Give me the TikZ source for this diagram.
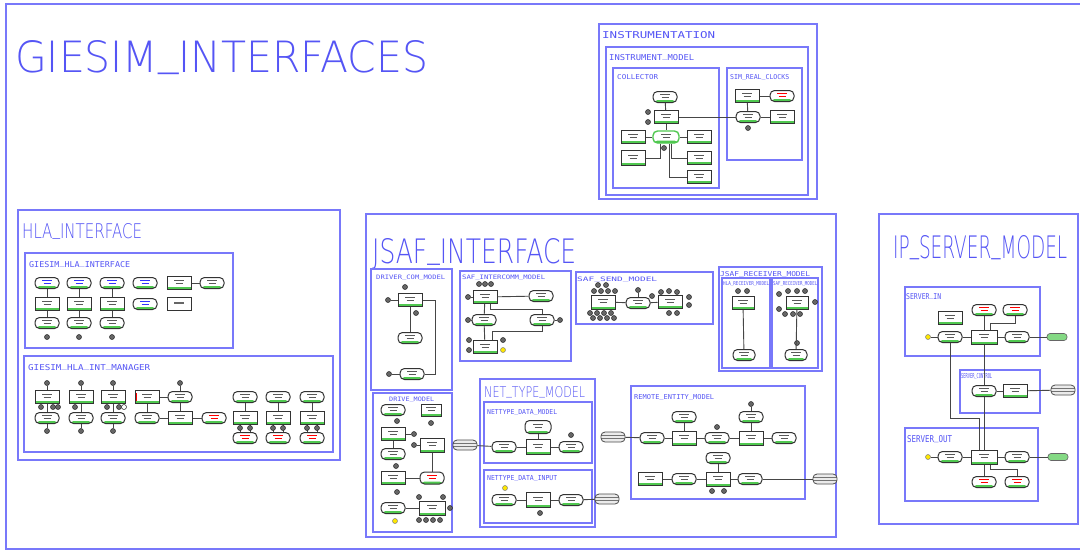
\documentclass[tikz,border=0pt]{standalone}
\usepackage{fontspec}
\usepackage{graphicx}
\usetikzlibrary{shapes.geometric}
\IfFontExistsTF{DejaVu Sans ExtraLight}{\newfontfamily\cadthin{DejaVu Sans ExtraLight}}{\newfontfamily\cadthin{DejaVu Sans Mono}}
\newfontfamily\cadmono{DejaVu Sans Mono}
\definecolor{frm}{RGB}{120,120,250}
\definecolor{ttl}{RGB}{85,85,245}
\definecolor{grn}{RGB}{80,200,80}
\definecolor{wire}{RGB}{70,70,70}
\newcommand\us{\raisebox{0.17em}{\_}}
\newcommand\biglab[6]{\node[anchor=north west,inner sep=0pt,text=ttl] (#1) at (#2,#3) {\resizebox{#4pt}{#5pt}{\cadthin #6}};}
\newcommand\smlab[6]{\node[anchor=north west,inner sep=0pt,text=ttl] (#1) at (#2,#3) {\resizebox{#4pt}{#5pt}{\cadmono #6}};}
\tikzset{
 outerfrm/.style={draw=frm, line width=2pt},
 frame/.style={draw=frm, line width=1.6pt},
 sub/.style={draw=frm, line width=1.4pt},
 wr/.style={draw=wire, line width=0.9pt},
 nbase/.style={draw=black!80, line width=1pt, fill=white, inner sep=0pt, minimum width=24pt, minimum height=11pt},
 gl/.style={path picture={
   \fill[grn] (path picture bounding box.south west) rectangle ([yshift=2.4pt]path picture bounding box.south east);
   \draw[#1, line width=1.2pt] ([xshift=-5pt,yshift=2.2pt]path picture bounding box.center) -- ([xshift=5pt,yshift=2.2pt]path picture bounding box.center)
     ([xshift=-3.5pt,yshift=-0.6pt]path picture bounding box.center) -- ([xshift=3.5pt,yshift=-0.6pt]path picture bounding box.center);}},
 mko/.style={path picture={
   \draw[black!60, line width=1.1pt] ([xshift=-5pt,yshift=1pt]path picture bounding box.center) -- ([xshift=5pt,yshift=1pt]path picture bounding box.center);}},
 pl/.style={nbase, rounded corners=4.5pt, gl=#1}, pl/.default=black!65,
 bx/.style={nbase, minimum height=13pt, gl=#1}, bx/.default=black!65,
 port/.style={circle, draw=black!85, fill=black!60, line width=0.5pt, minimum size=5pt, inner sep=0pt},
 yport/.style={port, fill=yellow!90!orange, draw=black!50},
 db/.style={draw=black!70, fill=black!8, rounded corners=4pt, minimum width=24pt, minimum height=10pt, inner sep=0pt, line width=0.8pt,
   path picture={\draw[black!55, line width=0.5pt] ([yshift=1.8pt]path picture bounding box.west) -- ([yshift=1.8pt]path picture bounding box.east)
     ([yshift=-1.2pt]path picture bounding box.west) -- ([yshift=-1.2pt]path picture bounding box.east);}},
 gblob/.style={draw=black!60, fill=grn!70, rounded corners=3pt, minimum width=20pt, minimum height=7pt, inner sep=0pt, line width=0.6pt},
}
\begin{document}
\begin{tikzpicture}[x=1pt,y=-1pt]
\useasboundingbox (0,0) rectangle (1080,550);
\fill[white] (0,0) rectangle (1080,550);
\draw[outerfrm] (6,4) rectangle (1095,549);
\biglab{tGI}{15}{40}{413}{32}{GIESIM\us INTERFACES}

% ---------------- INSTRUMENTATION
\draw[sub] (599,24) rectangle (817,199);
\draw[sub] (606,47) rectangle (808,195);
\draw[sub] (613,68) rectangle (719,188);
\draw[sub] (727,68) rectangle (802,160);
\smlab{tInstr}{602}{31}{113}{7}{INSTRUMENTATION}
\smlab{tInstrM}{609}{54}{85}{6}{INSTRUMENT\us MODEL}
\smlab{tColl}{617}{74}{41}{5}{COLLECTOR}
\smlab{tSim}{730}{74}{59}{5}{SIM\us REAL\us CLOCKS}
\node[pl] (c1) at (665,97) {};
\node[bx] (c2) at (666,117) {};
\node[port] (cp1) at (648,112) {};
\node[port] (cp2) at (648,122) {};
\node[pl, draw=grn, line width=1.4pt, minimum width=26pt, minimum height=12pt] (c3) at (666,137) {};
\node[bx] (c4) at (633,137) {};
\node[bx] (c5) at (699,137) {};
\node[bx, minimum height=15pt] (c6) at (633,158) {};
\node[bx] (c7) at (699,158) {};
\node[bx] (c8) at (699,177) {};
\node[port] (cp3) at (664,148) {};
\node[bx] (s1) at (747,96) {};
\node[pl=red] (s3) at (782,96) {};
\node[pl] (s2) at (748,117) {};
\node[bx] (s4) at (782,117) {};
\node[port] (sp) at (748,128) {};
\draw[wr] (c1) -- (c2);
\draw[wr] (c2) -- (c3);
\draw[wr] (c3) -- (c4);
\draw[wr] (c3) -- (c5);
\draw[wr] ([xshift=-6pt]c3.south) |- (c6.east);
\draw[wr] ([xshift=5pt]c3.south) |- (c7.west);
\draw[wr] ([xshift=3pt]c3.south) |- (c8.west);
\draw[wr] (c2) -- (s2);
\draw[wr] (s1) -- (s3);
\draw[wr] (s1) -- (s2);
\draw[wr] (s2) -- (s4);

% ---------------- HLA_INTERFACE
\draw[frame] (18,210) rectangle (340,460);
\biglab{tHLA}{22}{223}{120}{15}{HLA\us INTERFACE}
\draw[sub] (25,253) rectangle (233,348);
\smlab{tGHI}{29}{261}{101}{6}{GIESIM\us HLA\us INTERFACE}
\foreach \i/\x in {1/47,2/79,3/112} {
  \node[pl=blue!80] (ha\i) at (\x,283) {};
  \node[bx] (hb\i) at (\x,304) {};
  \node[pl] (hc\i) at (\x,323) {};
  \node[port] (hd\i) at (\x,337) {};
  \draw[wr] (ha\i) -- (hb\i);
  \draw[wr] (hb\i) -- (hc\i);
}
\node[pl=blue!80] (ha4) at (145,283) {};
\node[pl=blue!80] (hb4) at (145,304) {};
\node[bx] (h5) at (179,283) {};
\node[pl] (h6) at (212,283) {};
\node[nbase, minimum height=13pt, mko] (h7) at (179,304) {};
\draw[wr] (h5) -- (h6);

\draw[sub] (24,356) rectangle (333,452);
\smlab{tGHM}{28}{364}{122}{6}{GIESIM\us HLA\us INT\us MANAGER}
\foreach \i/\x in {1/47,2/81,3/113} {
  \node[port] (ma\i) at (\x,383) {};
  \node[bx] (mb\i) at (\x,397) {};
  \node[pl] (mc\i) at (\x,418) {};
  \node[port] (md\i) at (\x,431) {};
  \draw[wr] (ma\i) -- (mb\i);
  \draw[wr] (mb\i) -- (mc\i);
  \draw[wr] (mc\i) -- (md\i);
}
\foreach \k/\x in {1/41,2/53,3/58,4/75,5/107,6/119} {\node[port] (mq\k) at (\x,407) {};}
\node[port, fill=white] (mq7) at (124,407) {};
\node[bx] (m1) at (147,397) {};
\node[port] (m0) at (180,383) {};
\node[pl] (m2) at (180,397) {};
\node[pl] (m3) at (147,418) {};
\node[bx] (m4) at (180,418) {};
\node[pl=red] (m5) at (214,418) {};
\draw[red, line width=1pt] ([xshift=1.5pt,yshift=4pt]m1.west) -- ([xshift=1.5pt,yshift=-4pt]m1.west);
\draw[wr] (m1) -- (m2);
\draw[wr] (m0) -- (m2);
\draw[wr] (m2) -- (m4);
\draw[wr] (m1) -- (m3);
\draw[wr] (m3) -- (m4);
\draw[wr] (m4) -- (m5);
\foreach \i/\x in {1/245,2/278,3/312} {
  \node[pl] (ra\i) at (\x,397) {};
  \node[bx] (rb\i) at (\x,418) {};
  \node[pl=red] (rc\i) at (\x,438) {};
  \draw[wr] (ra\i) -- (rb\i);
  \draw[wr] ([xshift=-5pt]rb\i.south) -- ([xshift=-5pt]rc\i.north);
  \draw[wr] ([xshift=5pt]rb\i.south) -- ([xshift=5pt]rc\i.north);
  \node[port] (rpa\i) at (\x-5,428) {};
  \node[port] (rpb\i) at (\x+5,428) {};
}

% ---------------- JSAF_INTERFACE
\draw[frame] (366,214) rectangle (836,537);
\biglab{tJSAF}{372}{238}{204}{25}{JSAF\us INTERFACE}
% DRIVER_COM_MODEL
\draw[sub] (371,269) rectangle (452,390);
\smlab{tDC}{376}{275}{69}{4.5}{DRIVER\us COM\us MODEL}
\node[port] (dp1) at (405,287) {};
\node[bx] (d1) at (410,300) {};
\node[port] (dp2) at (388,300) {};
\node[port] (dp3) at (416,313) {};
\node[pl] (d2) at (410,338) {};
\node[pl] (d3) at (412,374) {};
\node[port] (dp4) at (389,374) {};
\coordinate (dc) at (435,300);
\draw[wr] (d1) -- (d2);
\draw[wr] (d1.east) -- (dc) |- (d3.east);
\draw[wr] (dp2) -- (d1);
\draw[wr] (dp4) -- (d3);
% SAF_INTERCOMM_MODEL
\draw[sub] (460,271) rectangle (571,361);
\smlab{tSI}{462}{275}{83}{4.5}{SAF\us INTERCOMM\us MODEL}
\foreach \k/\x in {1/479,2/485,3/491} {\node[port] (ip\k) at (\x,284) {};}
\node[bx] (i1) at (485,297) {};
\node[port] (ip4) at (468,297) {};
\node[pl] (i2) at (541,296) {};
\node[pl] (i3) at (484,320) {};
\node[port] (ip5) at (468,320) {};
\node[pl] (i4) at (542,320) {};
\node[port] (ip6) at (560,320) {};
\node[bx] (i5) at (485,347) {};
\node[port] (ip7) at (469,340) {};
\node[port] (ip8) at (469,350) {};
\node[port] (ip9) at (503,340) {};
\node[yport] (ip10) at (503,350) {};
\coordinate (ic1) at (542,309);
\coordinate (ic2) at (492,331);
\draw[wr] (i1) -- (i2);
\draw[wr] (i1) -- (i3);
\draw[wr] (i3) -- (i5);
\draw[wr] ([xshift=5pt]i1.south) |- (ic1) -- (i4.north);
\draw[wr] (i4.south) |- (ic2) -- (ic2 |- i5.north);
\draw[wr] (ip4) -- (i1);
\draw[wr] (ip5) -- (i3);
\draw[wr] (i4) -- (ip6);
% SAF_SEND_MODEL
\draw[sub] (576,272) rectangle (713,324);
\smlab{tSS}{577}{277}{80}{4.5}{SAF\us SEND\us MODEL}
\node[bx, minimum height=14pt] (ss1) at (603,302) {};
\foreach \k/\x/\y in {1/598/285,2/606/285,3/594/291,4/601/291,5/608/291,6/615/291,7/590/313,8/597/313,9/604/313,10/611/313,11/593/318,12/600/318,13/607/318,14/614/318} {\node[port] (sq\k) at (\x,\y) {};}
\node[pl] (ss2) at (638,303) {};
\node[port] (sq15) at (638,290) {};
\node[bx] (ss3) at (670,302) {};
\foreach \k/\x/\y in {16/661/292,17/669/291,18/677/292,19/652/296,20/689/297,21/689/305,22/669/313,23/677/313} {\node[port] (sq\k) at (\x,\y) {};}
\draw[wr] (ss1) -- (ss2);
\draw[wr] (ss2) -- (ss3);
\draw[wr] (sq15) -- (ss2);
% JSAF_RECEIVER_MODEL
\draw[sub] (719,267) rectangle (822,371);
\draw[sub] (722,278) rectangle (770,368);
\draw[sub] (772,278) rectangle (818,368);
\smlab{tJR}{720}{271}{90}{5}{JSAF\us RECEIVER\us MODEL}
\smlab{tHR}{723}{281}{46}{4}{HLA\us RECEIVER\us MODEL}
\smlab{tSR}{773}{281}{44}{4}{SAF\us RECEIVER\us MODEL}
\node[port] (jp1) at (738,291) {};
\node[port] (jp2) at (747,291) {};
\node[bx, minimum width=22pt] (jr1) at (743,303) {};
\node[pl, minimum width=22pt] (jr2) at (744,355) {};
\draw[wr] (jr1) -- (jr2);
\node[bx, minimum width=22pt] (jr3) at (797,303) {};
\foreach \k/\x/\y in {3/788/291,4/797/291,5/805/291,6/779/294,7/779/309,8/815/302,9/785/314,10/793/314,11/800/314,12/797/343} {\node[port] (jp\k) at (\x,\y) {};}
\node[pl, minimum width=22pt] (jr4) at (796,355) {};
\draw[wr] (jr3) -- (jr4);
% DRIVE_MODEL
\draw[sub] (373,393) rectangle (452,532);
\smlab{tDM}{389}{397}{45}{4.5}{DRIVE\us MODEL}
\node[pl] (dm1) at (393,410) {};
\node[port] (dq1) at (397,421) {};
\node[bx, minimum width=20pt, minimum height=12pt] (dm2) at (431,410) {};
\node[port] (dq2) at (431,423) {};
\node[bx] (dm3) at (393,434) {};
\node[port] (dq3) at (414,434) {};
\node[pl] (dm4) at (393,454) {};
\node[port] (dq4) at (396,466) {};
\node[bx] (dm5) at (393,478) {};
\node[port] (dq5) at (397,492) {};
\node[bx, minimum height=14pt] (dm6) at (432,445) {};
\node[port] (dq6) at (414,445) {};
\node[pl=red, minimum height=12pt] (dm7) at (432,478) {};
\node[pl] (dm8) at (393,508) {};
\node[yport] (dq7) at (395,521) {};
\node[bx, minimum width=26pt, minimum height=14pt] (dm9) at (432,508) {};
\foreach \k/\x/\y in {8/419/497,9/443/497,10/419/520,11/426/520,12/433/520,13/440/520,14/450/508} {\node[port] (dq\k) at (\x,\y) {};}
\draw[wr] (dm3) -- (dm4);
\draw[wr] (dm6) -- (dm7);
\draw[wr] (dm7) -- (dm5);
\draw[wr] (dm8) -- (dm9);
\draw[wr] (dq3) -- (dm3);
\draw[wr] (dq6) -- (dm6);
% NET_TYPE_MODEL
\draw[sub] (480,379) rectangle (595,527);
\biglab{tNT}{484}{386}{101}{11}{NET\us TYPE\us MODEL}
\draw[sub] (484,402) rectangle (592,463);
\smlab{tND}{487}{409}{70}{5}{NETTYPE\us DATA\us MODEL}
\draw[sub] (484,470) rectangle (592,523);
\smlab{tNI}{487}{475}{70}{5}{NETTYPE\us DATA\us INPUT}
\node[pl, minimum width=26pt, minimum height=13pt] (n1) at (538,427) {};
\node[pl] (n2) at (504,447) {};
\node[bx, minimum height=15pt] (n3) at (538,447) {};
\node[pl] (n4) at (571,447) {};
\node[port] (nq1) at (571,435) {};
\node[db] (ndb1) at (465,445) {};
\draw[wr] (ndb1) -- (n2);
\draw[wr] (n2) -- (n3);
\draw[wr] (n3) -- (n4);
\draw[wr] (n1) -- (n3);
\node[pl] (n5) at (504,500) {};
\node[yport] (nq2) at (505,488) {};
\node[bx, minimum height=15pt] (n6) at (538,500) {};
\node[port] (nq3) at (540,513) {};
\node[pl] (n7) at (571,500) {};
\node[db] (ndb2) at (607,499) {};
\draw[wr] (n5) -- (n6);
\draw[wr] (n6) -- (n7);
\draw[wr] (n7) -- (ndb2);
% REMOTE_ENTITY_MODEL
\draw[sub] (631,386) rectangle (805,499);
\smlab{tRE}{634}{394}{80}{5}{REMOTE\us ENTITY\us MODEL}
\node[db] (rdb1) at (613,437) {};
\node[pl] (e1) at (652,438) {};
\node[bx, minimum height=14pt] (e2) at (684,438) {};
\node[pl] (e3) at (717,438) {};
\node[bx, minimum height=14pt] (e4) at (751,438) {};
\node[pl] (e5) at (784,438) {};
\node[pl] (e6) at (684,417) {};
\node[pl] (e7) at (751,417) {};
\node[port] (eq1) at (751,404) {};
\node[port] (eq2) at (717,427) {};
\node[bx] (e8) at (650,479) {};
\node[pl] (e9) at (684,479) {};
\node[bx, minimum height=14pt] (e10) at (718,479) {};
\node[pl] (e11) at (750,479) {};
\node[pl] (e12) at (718,458) {};
\node[port] (eq3) at (712,491) {};
\node[port] (eq4) at (724,491) {};
\node[db] (rdb2) at (825,479) {};
\draw[wr] (rdb1) -- (e1);
\draw[wr] (e1) -- (e2);
\draw[wr] (e2) -- (e3);
\draw[wr] (e3) -- (e4);
\draw[wr] (e4) -- (e5);
\draw[wr] (e6) -- (e2);
\draw[wr] (e7) -- (e4);
\draw[wr] (eq1) -- (e7);
\draw[wr] (e8) -- (e9);
\draw[wr] (e9) -- (e10);
\draw[wr] (e10) -- (e11);
\draw[wr] (e11) -- (rdb2);
\draw[wr] (e12) -- (e10);

% ---------------- IP_SERVER_MODEL
\draw[frame] (879,214) rectangle (1078,524);
\biglab{tIP}{893}{235}{174}{23}{IP\us SERVER\us MODEL}
\draw[sub] (905,287) rectangle (1040,356);
\draw[sub] (960,370) rectangle (1040,413);
\draw[sub] (905,428) rectangle (1038,501);
\smlab{tSIn}{906}{293}{35}{6}{SERVER\us IN}
\smlab{tSC}{961}{373}{31}{5}{SERVER\us CONTROL}
\smlab{tSO}{907}{435}{45}{7}{SERVER\us OUT}
\node[bx] (p1) at (950,318) {};
\node[pl=red] (p2) at (984,310) {};
\node[pl=red] (p3) at (1015,310) {};
\node[yport] (pq1) at (928,337) {};
\node[pl] (p4) at (950,337) {};
\node[bx, minimum width=26pt, minimum height=14pt] (p5) at (984,337) {};
\node[pl] (p6) at (1017,337) {};
\node[gblob] (p7) at (1057,337) {};
\node[pl] (p8) at (984,391) {};
\node[bx] (p9) at (1015,391) {};
\node[db] (p10) at (1063,390) {};
\node[yport] (pq2) at (928,457) {};
\node[pl] (p11) at (950,457) {};
\node[bx, minimum width=26pt, minimum height=14pt] (p12) at (984,457) {};
\node[pl] (p13) at (1017,457) {};
\node[gblob] (p14) at (1058,457) {};
\node[pl=red] (p15) at (984,482) {};
\node[pl=red] (p16) at (1017,482) {};
\coordinate (pc1) at (990,323);
\coordinate (pc2) at (1017,469);
\coordinate (pc3) at (950,418);
\coordinate (pc4) at (979,418);
\draw[wr] (pq1) -- (p4);
\draw[wr] (p4) -- (p5);
\draw[wr] (p5) -- (p6);
\draw[wr] (p6) -- (p7);
\draw[wr] (p2) -- (p5);
\draw[wr] (p3.south) |- (pc1) -- (pc1 |- p5.north);
\draw[wr] (p8) -- (p9);
\draw[wr] (p9) -- (p10);
\draw[wr] (p5) -- (p8);
\draw[wr] (p8) -- (p12);
\draw[wr] (p4.south) -- (pc3) -- (pc4) -- (pc4 |- p12.north);
\draw[wr] (pq2) -- (p11);
\draw[wr] (p11) -- (p12);
\draw[wr] (p12) -- (p13);
\draw[wr] (p13) -- (p14);
\draw[wr] (p12) -- (p15);
\draw[wr] ([xshift=6pt]p12.south) |- (pc2) -- (p16.north);
\end{tikzpicture}
\end{document}
